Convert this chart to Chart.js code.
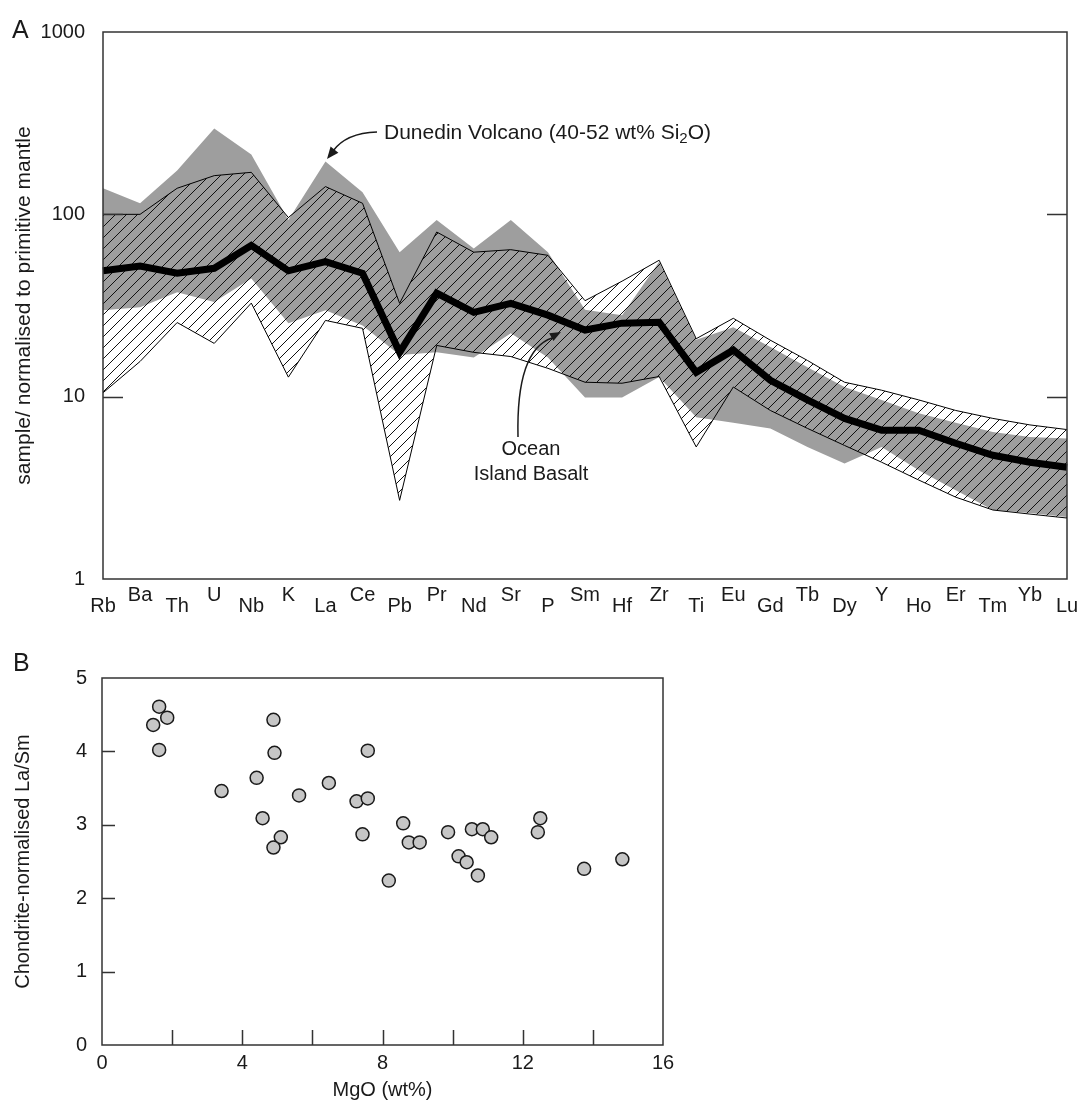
<!DOCTYPE html>
<html>
<head>
<meta charset="utf-8">
<script src="https://cdn.jsdelivr.net/npm/chart.js@4.4.0/dist/chart.umd.min.js"></script>
<style>
    html, body { margin: 0; padding: 0; background: #fff; }
    #wrap { position: relative; width: 1077px; height: 1104px; }
    #chartA { position: absolute; left: 0; top: 0; }
    #chartB { position: absolute; left: 0; top: 640px; }
</style>
</head>
<body>
<div id="wrap">
    <canvas id="chartA" width="1077" height="640"></canvas>
    <canvas id="chartB" width="1077" height="464"></canvas>
</div>
<script>
// panel A: spider diagram, values normalised to primitive mantle
const elements = ['Rb', 'Ba', 'Th', 'U', 'Nb', 'K', 'La', 'Ce', 'Pb', 'Pr', 'Nd', 'Sr', 'P', 'Sm',
    'Hf', 'Zr', 'Ti', 'Eu', 'Gd', 'Tb', 'Dy', 'Y', 'Ho', 'Er', 'Tm', 'Yb', 'Lu'];

const dunedinMax = [139, 115, 174, 296, 213, 93, 195, 132, 62, 93, 65, 93, 62, 30, 28, 55,
    20.5, 24, 18.7, 14.5, 11.3, 9.6, 8.1, 7.2, 6.4, 6.0, 5.9];
const dunedinMin = [29.8, 30.9, 37.4, 33, 44.5, 25.3, 29.8, 24.6, 16.9, 17.5, 16.4, 22.3, 16.4, 9.9, 9.9, 12.8,
    7.7, 7.2, 6.7, 5.3, 4.3, 5.3, 3.95, 3.07, 2.39, 2.3, 2.19];

const oibMax = [100, 100, 139, 163, 170, 96, 142, 115, 32.5, 80, 62, 64, 59.6, 33.6, 43, 56,
    20.8, 26.9, 20.4, 15.8, 12.0, 10.85, 9.6, 8.4, 7.6, 7.0, 6.6];
const oibMin = [10.5, 15.6, 25.5, 19.6, 32.6, 12.8, 26.2, 23.7, 2.7, 19.1, 17.5, 16.6, 14.3, 12, 11.85, 12.9,
    5.3, 11.3, 8.4, 6.7, 5.4, 4.37, 3.49, 2.81, 2.39, 2.27, 2.16];

const meanLine = [49, 52, 47.5, 50.6, 67.5, 49, 55, 47.5, 17.5, 37, 29, 32.5, 28, 23.2, 25.3, 25.6,
    13.6, 18, 12.3, 9.6, 7.6, 6.55, 6.55, 5.55, 4.77, 4.37, 4.1];

const yTicksA = [1, 10, 100, 1000];

// panel B: La/Sm against MgO
const mgo = [1.63, 1.86, 1.46, 1.63, 4.89, 4.92, 4.41, 3.41, 5.62, 6.47, 4.58, 5.10, 4.89,
    7.58, 7.26, 7.58, 7.43, 8.59, 8.75, 9.06, 8.18, 9.87, 10.55, 10.86, 11.10, 10.17, 10.40, 10.72,
    12.50, 12.43, 13.75, 14.84];
const laSm = [4.61, 4.46, 4.36, 4.02, 4.43, 3.98, 3.64, 3.46, 3.40, 3.57, 3.09, 2.83, 2.69,
    4.01, 3.32, 3.36, 2.87, 3.02, 2.76, 2.76, 2.24, 2.90, 2.94, 2.94, 2.83, 2.57, 2.49, 2.31,
    3.09, 2.90, 2.40, 2.53];

const FONT = '"Liberation Sans", Arial, Helvetica, sans-serif';
const INK = '#1a1a1a';

// up/down staggered element names
const elementLabels = elements.map((el, i) => {
    return i % 2 === 1 ? [el, ''] : ['', el];
});

function hatchPattern() {
    const c = document.createElement('canvas');
    c.width = 11;
    c.height = 11;
    const g = c.getContext('2d');
    g.strokeStyle = '#111';
    g.lineWidth = 1;
    g.beginPath();
    g.moveTo(0, 11); g.lineTo(11, 0);
    g.moveTo(-1, 1); g.lineTo(1, -1);
    g.moveTo(10, 12); g.lineTo(12, 10);
    g.stroke();
    return g.createPattern(c, 'repeat');
}

// frame round the plot plus inward tick marks
function frameTicks(cfg) {
    return {
        id: 'frameTicks',
        afterDraw(chart) {
            const ctx = chart.ctx;
            const a = chart.chartArea;
            const xs = chart.scales.x;
            const ys = chart.scales.y;
            ctx.save();
            ctx.strokeStyle = '#333';
            ctx.lineWidth = 1.5;
            ctx.strokeRect(a.left, a.top, a.right - a.left, a.bottom - a.top);
            ctx.beginPath();
            (cfg.yTicks || []).forEach((v) => {
                const py = Math.round(ys.getPixelForValue(v)) + 0.5;
                ctx.moveTo(a.left, py);
                ctx.lineTo(a.left + cfg.yLen, py);
                if (cfg.right) {
                    ctx.moveTo(a.right, py);
                    ctx.lineTo(a.right - cfg.yLen, py);
                }
            });
            (cfg.xTicks || []).forEach((v) => {
                const px = Math.round(xs.getPixelForValue(v)) + 0.5;
                ctx.moveTo(px, a.bottom);
                ctx.lineTo(px, a.bottom - cfg.xLen);
            });
            ctx.stroke();
            ctx.fillStyle = INK;
            ctx.font = '25px ' + FONT;
            ctx.textAlign = 'left';
            ctx.textBaseline = 'alphabetic';
            ctx.fillText(cfg.letter, cfg.letterX, cfg.letterY);
            ctx.restore();
        }
    };
}

function arrowHead(ctx, fromX, fromY, tipX, tipY, len, half) {
    const ang = Math.atan2(tipY - fromY, tipX - fromX);
    ctx.beginPath();
    ctx.moveTo(tipX, tipY);
    ctx.lineTo(tipX - len * Math.cos(ang) + half * Math.sin(ang), tipY - len * Math.sin(ang) - half * Math.cos(ang));
    ctx.lineTo(tipX - len * Math.cos(ang) - half * Math.sin(ang), tipY - len * Math.sin(ang) + half * Math.cos(ang));
    ctx.closePath();
    ctx.fill();
}

const notes = {
    id: 'notes',
    afterDatasetsDraw(chart) {
        const ctx = chart.ctx;
        ctx.save();
        ctx.fillStyle = INK;
        ctx.strokeStyle = INK;
        ctx.textBaseline = 'alphabetic';
        ctx.textAlign = 'left';

        // Dunedin Volcano label with subscript
        let x = 384;
        const yb = 139;
        const part = 'Dunedin Volcano (40-52 wt% Si';
        ctx.font = '21px ' + FONT;
        ctx.fillText(part, x, yb);
        x += ctx.measureText(part).width;
        ctx.font = '15px ' + FONT;
        ctx.fillText('2', x, yb + 4);
        x += ctx.measureText('2').width;
        ctx.font = '21px ' + FONT;
        ctx.fillText('O)', x, yb);

        ctx.lineWidth = 1.5;
        ctx.beginPath();
        ctx.moveTo(377, 132);
        ctx.quadraticCurveTo(346, 133, 333, 151);
        ctx.stroke();
        arrowHead(ctx, 339, 144, 327, 159, 12, 5);

        // Ocean Island Basalt label
        ctx.font = '20px ' + FONT;
        ctx.textAlign = 'center';
        ctx.fillText('Ocean', 531, 455);
        ctx.fillText('Island Basalt', 531, 480);
        ctx.beginPath();
        ctx.moveTo(518, 437);
        ctx.quadraticCurveTo(516, 350, 552, 338);
        ctx.stroke();
        arrowHead(ctx, 544, 341, 561, 332, 11, 4.5);
        ctx.restore();
    }
};

const ctxA = document.getElementById('chartA');
const chartA = new Chart(ctxA, { // eslint-disable-line
    type: 'line',
    data: {
        labels: elementLabels,
        datasets: [{
            label: 'mean',
            data: meanLine,
            borderColor: '#000',
            borderWidth: 7,
            borderJoinStyle: 'miter',
            pointRadius: 0,
            fill: false
        }, {
            label: 'Ocean Island Basalt',
            data: oibMax,
            borderColor: '#000',
            borderWidth: 1,
            pointRadius: 0,
            backgroundColor: hatchPattern(),
            fill: '+1'
        }, {
            label: 'OIB min',
            data: oibMin,
            borderColor: '#000',
            borderWidth: 1,
            pointRadius: 0,
            fill: false
        }, {
            label: 'Dunedin Volcano',
            data: dunedinMax,
            borderWidth: 0,
            borderColor: 'rgba(0,0,0,0)',
            pointRadius: 0,
            backgroundColor: '#9e9e9e',
            fill: '+1'
        }, {
            label: 'Dunedin min',
            data: dunedinMin,
            borderWidth: 0,
            borderColor: 'rgba(0,0,0,0)',
            pointRadius: 0,
            fill: false
        }]
    },
    options: {
        responsive: false,
        animation: false,
        devicePixelRatio: 1,
        layout: { padding: { left: 0, top: 32, right: 10, bottom: 0 } },
        elements: { line: { tension: 0 } },
        plugins: {
            legend: { display: false },
            tooltip: { enabled: false }
        },
        scales: {
            x: {
                type: 'category',
                offset: false,
                grid: { display: false, drawTicks: false },
                border: { display: false },
                ticks: {
                    autoSkip: false,
                    maxRotation: 0,
                    minRotation: 0,
                    padding: 11,
                    color: INK,
                    font: { family: FONT, size: 20, lineHeight: '11px' }
                },
                afterFit: (scale) => {
                    scale.height = 61;
                    scale.paddingLeft = 0;
                    scale.paddingRight = 0;
                }
            },
            y: {
                type: 'logarithmic',
                min: 1,
                max: 1000,
                grid: { display: false, drawTicks: false },
                border: { display: false },
                afterBuildTicks: (scale) => {
                    scale.ticks = yTicksA.map((v) => ({ value: v }));
                },
                ticks: {
                    padding: 18,
                    color: INK,
                    font: { family: FONT, size: 20 },
                    callback: (v) => String(v)
                },
                title: {
                    display: true,
                    text: 'sample/ normalised to primitive mantle',
                    color: INK,
                    font: { family: FONT, size: 21 },
                    padding: { top: 12, bottom: 0 }
                },
                afterFit: (scale) => {
                    scale.width = 103;
                }
            }
        }
    },
    plugins: [notes, frameTicks({
        yTicks: [10, 100], yLen: 20, right: true,
        letter: 'A', letterX: 12, letterY: 38
    })]
});

const points = mgo.map((m, i) => {
    return { x: m, y: laSm[i] };
});

const ctxB = document.getElementById('chartB');
const chartB = new Chart(ctxB, { // eslint-disable-line
    type: 'scatter',
    data: {
        datasets: [{
            label: 'La/Sm',
            data: points,
            pointRadius: 6.5,
            pointBackgroundColor: '#c6c6c6',
            pointBorderColor: '#1a1a1a',
            pointBorderWidth: 1.5
        }]
    },
    options: {
        responsive: false,
        animation: false,
        devicePixelRatio: 1,
        layout: { padding: { left: 0, top: 38, right: 414, bottom: 0 } },
        plugins: {
            legend: { display: false },
            tooltip: { enabled: false }
        },
        scales: {
            x: {
                type: 'linear',
                min: 0,
                max: 16,
                grid: { display: false, drawTicks: false },
                border: { display: false },
                afterBuildTicks: (scale) => {
                    scale.ticks = [0, 4, 8, 12, 16].map((v) => ({ value: v }));
                },
                ticks: {
                    padding: 6,
                    maxRotation: 0,
                    color: INK,
                    font: { family: FONT, size: 20 }
                },
                title: {
                    display: true,
                    text: 'MgO (wt%)',
                    color: INK,
                    font: { family: FONT, size: 20 },
                    padding: { top: 0, bottom: 2 }
                },
                afterFit: (scale) => {
                    scale.height = 59;
                    scale.paddingLeft = 0;
                    scale.paddingRight = 0;
                }
            },
            y: {
                type: 'linear',
                min: 0,
                max: 5,
                grid: { display: false, drawTicks: false },
                border: { display: false },
                ticks: {
                    stepSize: 1,
                    padding: 15,
                    color: INK,
                    font: { family: FONT, size: 20 }
                },
                title: {
                    display: true,
                    text: 'Chondrite-normalised La/Sm',
                    color: INK,
                    font: { family: FONT, size: 20 },
                    padding: { top: 11, bottom: 0 }
                },
                afterFit: (scale) => {
                    scale.width = 102;
                }
            }
        }
    },
    plugins: [frameTicks({
        yTicks: [1, 2, 3, 4], yLen: 13,
        xTicks: [2, 4, 6, 8, 10, 12, 14], xLen: 15,
        letter: 'B', letterX: 13, letterY: 671
            - 640
    })]
});
</script>
</body>
</html>
